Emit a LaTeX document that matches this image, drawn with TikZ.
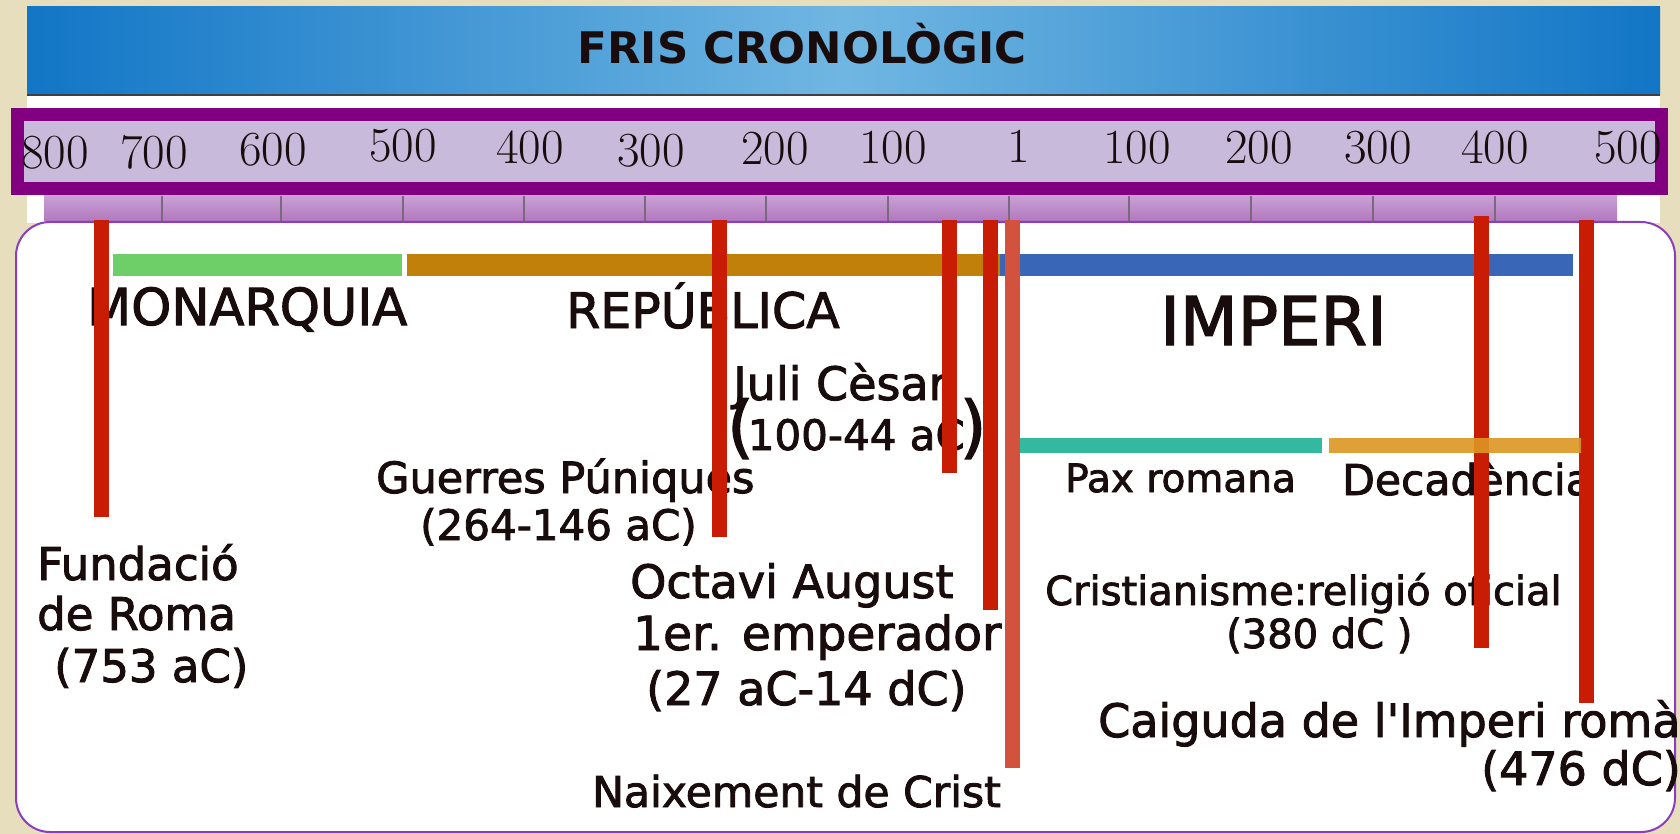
\documentclass[tikz,border=0pt]{standalone}
\usepackage{fontspec}
\newfontfamily\dv{DejaVu Sans}[FakeBold=2]
\newfontfamily\dvb{DejaVu Sans Bold}
\definecolor{beige}{RGB}{230,222,188}
\definecolor{bluedark}{RGB}{18,118,198}
\definecolor{bluelight}{RGB}{112,182,226}
\definecolor{rulerpurple}{RGB}{128,0,128}
\definecolor{lavA}{RGB}{200,186,218}
\definecolor{lavB}{RGB}{222,206,228}
\definecolor{stripTop}{RGB}{200,160,212}
\definecolor{stripBot}{RGB}{178,120,190}
\definecolor{tickgray}{RGB}{120,105,125}
\definecolor{boxviolet}{RGB}{140,60,190}
\definecolor{monagreen}{RGB}{110,207,104}
\definecolor{repuorange}{RGB}{192,128,10}
\definecolor{impblue}{RGB}{58,102,184}
\definecolor{paxteal}{RGB}{50,185,160}
\definecolor{decgold}{RGB}{220,150,35}
\definecolor{evred}{RGB}{200,28,5}
\definecolor{evredlight}{RGB}{210,82,62}
\definecolor{txt}{RGB}{25,12,12}
\newcommand{\bigparen}[1]{\smash{\fontsize{68}{50}\selectfont #1}}
\tikzset{
  lbl/.style={inner sep=0pt, anchor=base west, text=txt},
  num/.style={inner sep=0pt, anchor=center, text=txt, font=\fontsize{49}{49}\selectfont},
  evline/.style={evred, line width=15pt},
  periodbar/.style={line width=22pt},
  subbar/.style={line width=15pt},
  tickline/.style={tickgray, line width=1.5pt}
}
\begin{document}
\begin{tikzpicture}[x=1pt,y=-1pt]
\useasboundingbox (0,0) rectangle (1680,834);
% background
\fill[beige] (0,0) rectangle (1680,834);
\fill[white] (27,95) rectangle (1660,223);
% title bar
\shade[left color=bluedark, right color=bluedark, middle color=bluelight] (27,7) rectangle (1660,95);
\draw[black!75, line width=1.5pt] (27,95) -- (1660,95);
\node[inner sep=0pt, anchor=base, text=txt, font=\dvb\fontsize{43.5}{43.5}\selectfont] (title) at (802,64) {FRIS CRONOLÒGIC};
% tick strip
\shade[top color=stripTop, bottom color=stripBot] (44,196) rectangle (1617,221);
\foreach \tx in {162,281,403,524,645,766,888,1009,1129,1251,1373,1495}
  \draw[tickline] (\tx,196) -- (\tx,221);
% ruler box
\shade[left color=lavA, middle color=lavB, right color=lavA] (17,115) rectangle (1661,189);
\draw[rulerpurple, line width=13pt] (17,115) rectangle (1661,189);
\node[num] (n800) at (55,153) {800};
\node[num] (n700) at (154,152) {700};
\node[num] (n600) at (273,150) {600};
\node[num] (n500) at (403,146) {500};
\node[num] (n400) at (530,148) {400};
\node[num] (n300) at (651,151) {300};
\node[num] (n200) at (775,149) {200};
\node[num] (n100) at (893,148) {100};
\node[num] (n1) at (1019,146) {1};
\node[num] (p100) at (1137,148) {100};
\node[num] (p200) at (1259,148) {200};
\node[num] (p300) at (1378,148) {300};
\node[num] (p400) at (1495,148) {400};
\node[num] (p500) at (1628,148) {500};
% main box
\draw[boxviolet, line width=2pt, fill=white, rounded corners=34pt] (16,222) rectangle (1675,832);
% period bars
\draw[periodbar, monagreen] (113,265) -- (402,265);
\draw[periodbar, repuorange] (407,265) -- (1001,265);
\draw[periodbar, impblue] (1000,265) -- (1573,265);
\draw[subbar, paxteal] (1019,445) -- (1322,445);
% labels
\node[lbl, font=\dv\fontsize{51}{51}\selectfont] (mon) at (87,325) {MONARQUIA};
\node[lbl, font=\dv\fontsize{49}{49}\selectfont] (rep) at (566,328) {REPÚBLICA};
\node[lbl, font=\dv\fontsize{67}{67}\selectfont] (imp) at (1160,345) {IMPERI};
\node[lbl, align=left, font={\dv\fontsize{46}{50}\selectfont}] (jc) at (727,450)
  {\hspace*{6pt}Juli Cèsar\\{\fontsize{42}{50}\selectfont\bigparen{(}\kern-6pt100-44 aC\kern-5pt\bigparen{)}}};
\node[lbl, font=\dv\fontsize{43}{43}\selectfont] (gp1) at (376,493) {Guerres Púniques};
\node[lbl, font=\dv\fontsize{42}{42}\selectfont] (gp2) at (420,540) {(264-146 aC)};
\node[lbl, font=\dv\fontsize{45}{45}\selectfont] (fr1) at (37,580) {Fundació};
\node[lbl, font=\dv\fontsize{45}{45}\selectfont] (fr2) at (37,630) {de Roma};
\node[lbl, font=\dv\fontsize{45}{45}\selectfont] (fr3) at (54,682) {(753 aC)};
\node[lbl, font=\dv\fontsize{46}{46}\selectfont] (oa1) at (630,598) {Octavi August};
\node[lbl, font=\dv\fontsize{47}{47}\selectfont] (oa2) at (633,650) {1er. emperador};
\node[lbl, font=\dv\fontsize{46}{46}\selectfont] (oa3) at (646,705) {(27 aC-14 dC)};
\node[lbl, font=\dv\fontsize{42.5}{42.5}\selectfont] (nc) at (592,807) {Naixement de Crist};
\node[lbl, font=\dv\fontsize{39}{39}\selectfont] (pax) at (1065,492) {Pax romana};
\node[lbl, font=\dv\fontsize{42.5}{42.5}\selectfont] (dec) at (1342,495) {Decadència};
\node[lbl, font=\dv\fontsize{40}{40}\selectfont] (cr1) at (1045,605) {Cristianisme:religió oficial};
\node[lbl, font=\dv\fontsize{40}{40}\selectfont] (cr2) at (1226,648) {(380 dC )};
\node[lbl, font=\dv\fontsize{46}{46}\selectfont] (ca1) at (1098,737) {Caiguda de l'Imperi romà};
\node[lbl, font=\dv\fontsize{46}{46}\selectfont] (ca2) at (1481,785) {(476 dC)};
% event lines
\coordinate (r1t) at (101,220); \coordinate (r1b) at (101,517);
\coordinate (r2t) at (719,220); \coordinate (r2b) at (719,537);
\coordinate (r3t) at (949,220); \coordinate (r3b) at (949,473);
\coordinate (r4t) at (990,220); \coordinate (r4b) at (990,610);
\coordinate (r5t) at (1012,220); \coordinate (r5b) at (1012,768);
\coordinate (r6t) at (1481,216); \coordinate (r6b) at (1481,648);
\coordinate (r7t) at (1586,220); \coordinate (r7b) at (1586,703);
\draw[evline] (r1t) -- (r1b);
\draw[evline] (r2t) -- (r2b);
\draw[evline] (r3t) -- (r3b);
\draw[evline] (r4t) -- (r4b);
\draw[evline, evredlight] (r5t) -- (r5b);
\draw[evline] (r6t) -- (r6b);
\draw[evline] (r7t) -- (r7b);
\draw[subbar, decgold, opacity=0.9] (1329,445) -- (1581,445);
\end{tikzpicture}
\end{document}
